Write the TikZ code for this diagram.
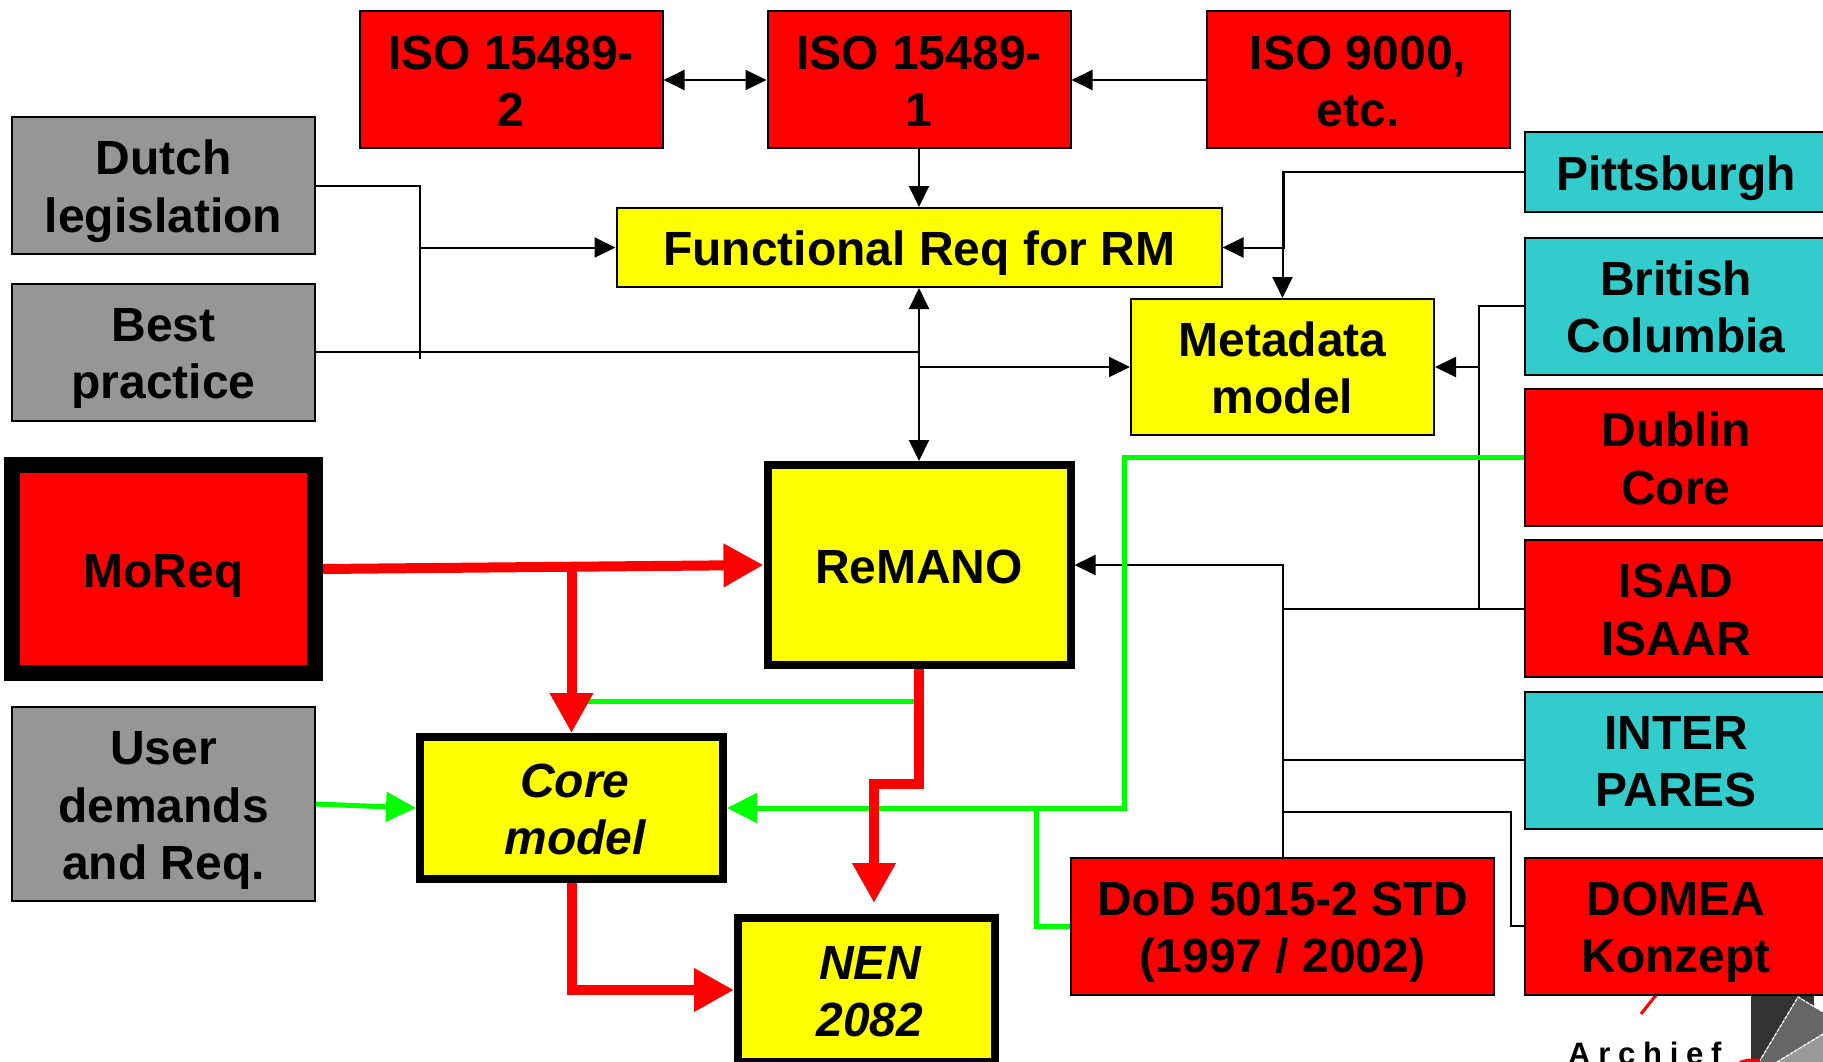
\documentclass[tikz,border=0pt]{standalone}
\usepackage{fontspec}
\setmainfont{Liberation Sans}
\usetikzlibrary{arrows.meta}
\pgfdeclarelayer{edgelayer}
\pgfdeclarelayer{nodelayer}
\pgfsetlayers{edgelayer,nodelayer,main}
\definecolor{boxred}{HTML}{FF0000}
\definecolor{boxyellow}{HTML}{FFFF00}
\definecolor{boxgrey}{HTML}{969696}
\definecolor{boxteal}{HTML}{33CCCC}
\definecolor{linegreen}{HTML}{00FF00}
\newcommand{\itline}[1]{\hspace*{7pt}\itshape #1}
\tikzstyle{none}=[inner sep=0pt]
\tikzstyle{box}=[rectangle,draw=black,line width=2pt,inner sep=0pt,align=center,minimum width=303pt,minimum height=137pt,font=\fontsize{48}{57.5}\selectfont\bfseries,text height=93.5pt,text depth=0pt]
\tikzstyle{oneline}=[text height=36pt]
\tikzstyle{threeline}=[text height=151pt]
\tikzstyle{redbox}=[box,fill=boxred]
\tikzstyle{yellowbox}=[box,fill=boxyellow]
\tikzstyle{greybox}=[box,fill=boxgrey]
\tikzstyle{tealbox}=[box,fill=boxteal]
\tikzstyle{heavy}=[line width=8pt]
\tikzstyle{wire}=[draw=black,line width=2pt]
\tikzstyle{transition}=[wire,-{Triangle[length=21pt,width=20pt]}]
\tikzstyle{both}=[wire,{Triangle[length=21pt,width=20pt]}-{Triangle[length=21pt,width=20pt]}]
\tikzstyle{greenwire}=[draw=linegreen,line width=5pt]
\tikzstyle{greenflow}=[greenwire,-{Triangle[length=30pt,width=29pt]}]
\tikzstyle{redwire}=[draw=boxred,line width=10pt]
\tikzstyle{redflow}=[redwire,-{Triangle[length=40pt,width=41pt]}]
\begin{document}
\begin{tikzpicture}[x=1pt,y=-1pt]
	\useasboundingbox (0, 0) rectangle (1823, 1062);
	\begin{pgfonlayer}{nodelayer}
		\node [style=redbox] (iso2) at (511, 80) {ISO 15489-\\2};
		\node [style=redbox] (iso1) at (919, 80) {ISO 15489-\\1};
		\node [style=redbox] (iso9) at (1358, 80) {ISO 9000,\\etc.};
		\node [style=greybox, minimum height=136pt] (dutch) at (163.5, 185.5) {Dutch\\legislation};
		\node [style=greybox] (best) at (163.5, 352) {Best\\practice};
		\node [style=redbox, style=oneline, line width=16pt, minimum height=208pt] (moreq) at (163.5, 569) {MoReq};
		\node [style=greybox, style=threeline, minimum height=194pt] (user) at (163.5, 804) {User\\demands\\and Req.};
		\node [style=yellowbox, style=oneline, minimum width=605pt, minimum height=79pt] (func) at (919, 247.5) {Functional Req for RM};
		\node [style=yellowbox, minimum height=136pt] (meta) at (1282.5, 367) {Metadata\\model};
		\node [style=yellowbox, style=oneline, style=heavy, minimum height=200pt] (remano) at (919, 565) {ReMANO};
		\node [style=yellowbox, style=heavy, minimum height=142pt] (core) at (571.5, 808) {\itline{Core}\\\itline{model}};
		\node [style=yellowbox, style=heavy, minimum width=257pt, minimum height=144pt] (nen) at (866.5, 990) {\itline{NEN}\\\itline{2082}};
		\node [style=tealbox, style=oneline, minimum height=79pt] (pitt) at (1676, 172) {Pittsburgh};
		\node [style=tealbox] (brit) at (1676, 306) {British\\Columbia};
		\node [style=redbox] (dublin) at (1676, 457.5) {Dublin\\Core};
		\node [style=redbox] (isad) at (1676, 608.5) {ISAD\\ISAAR};
		\node [style=tealbox] (inter) at (1676, 760) {INTER\\PARES};
		\node [style=redbox] (domea) at (1676, 926) {DOMEA\\Konzept};
		\node [style=redbox, minimum width=423pt] (dod) at (1282.5, 926) {DoD 5015-2 STD\\(1997 / 2002)};
	\end{pgfonlayer}
	\coordinate (legalend) at (420, 359);
	\coordinate (kneefunc) at (1284, 247.5);
	\coordinate (busbrit) at (1479, 609);
	\coordinate (kneedomea) at (1511, 812);
	\coordinate (busdomea) at (1282.5, 812);
	\coordinate (kneegreen) at (1124, 808);
	\coordinate (busgreen) at (1036, 808);
	\coordinate (busred) at (571.5, 567);
	\coordinate (topgreen) at (919, 701);
	\coordinate (endgreen) at (571.5, 701);
	\coordinate (kneered) at (874, 784);
	\coordinate (endred) at (874, 903);
	\begin{pgfonlayer}{edgelayer}
		% logo corner
		\fill [fill=black!80] (1751, 995) rectangle (1814, 1062);
		\fill [fill=black!60] (1798, 997) -- (1823, 1012) -- (1823, 1062) -- (1759, 1062) -- cycle;
		\fill [fill=black!40] (1823, 1034) -- (1823, 1062) -- (1777, 1062) -- cycle;
		\draw [white, line width=1.2pt, dash pattern=on 4pt off 1pt] (1759, 1062) -- (1798, 997) -- (1823, 1012);
		\draw [white, line width=1.2pt, dash pattern=on 4pt off 1pt] (1777, 1062) -- (1823, 1034);
		\fill [boxred] (1738, 1062) .. controls (1745, 1058) and (1752, 1058) .. (1760, 1059) -- (1760, 1062) -- cycle;
		\draw [boxred, line width=3pt] (1641, 1014) -- (1656, 995);
		\node [style=none, anchor=base west, font=\fontsize{31}{32}\selectfont\bfseries\addfontfeature{LetterSpace=25}] (archief) at (1568, 1064.5) {Archief};
		% black links
		\draw [style=both] (iso2.east) to (iso1.west);
		\draw [style=transition] (iso9.west) to (iso1.east);
		\draw [style=transition] (iso1.south) to (func.north);
		\draw [style=wire] (dutch.east) -| (legalend);
		\draw [style=transition] (legalend |- func) to (func.west);
		\draw [style=wire] (best.east) to (best -| func);
		\draw [style=both] (func.south) to (remano.north);
		\draw [style=transition] (func |- meta) to (meta.west);
		\draw [style=transition] (pitt.west) -| (meta.north);
		\draw [style=transition] (pitt.west) -| (kneefunc) -- (func.east);
		\draw [style=wire] (brit.west) -| (busbrit);
		\draw [style=transition] (busbrit |- meta) to (meta.east);
		\draw [style=wire] (isad.west) to (dod |- isad);
		\draw [style=wire] (inter.west) to (dod |- inter);
		\draw [style=wire] (domea.west) -| (kneedomea) -- (busdomea);
		\draw [style=transition] (dod.north) |- (remano.east);
		% green links
		\draw [style=greenwire] (topgreen) to (endgreen);
		\draw [style=greenflow] (user.east) to (core.west);
		\draw [style=greenflow] (dublin.west) -| (kneegreen) -- (core.east);
		\draw [style=greenwire] (dod.west) -| (busgreen);
		% red links
		\draw [style=redflow] (moreq.east) to (remano.west);
		\draw [style=redflow] (busred) to (core.north);
		\draw [style=redflow] (remano.south) |- (kneered) -- (endred);
		\draw [style=redflow] (core.south) |- (nen.west);
	\end{pgfonlayer}
\end{tikzpicture}
\end{document}
